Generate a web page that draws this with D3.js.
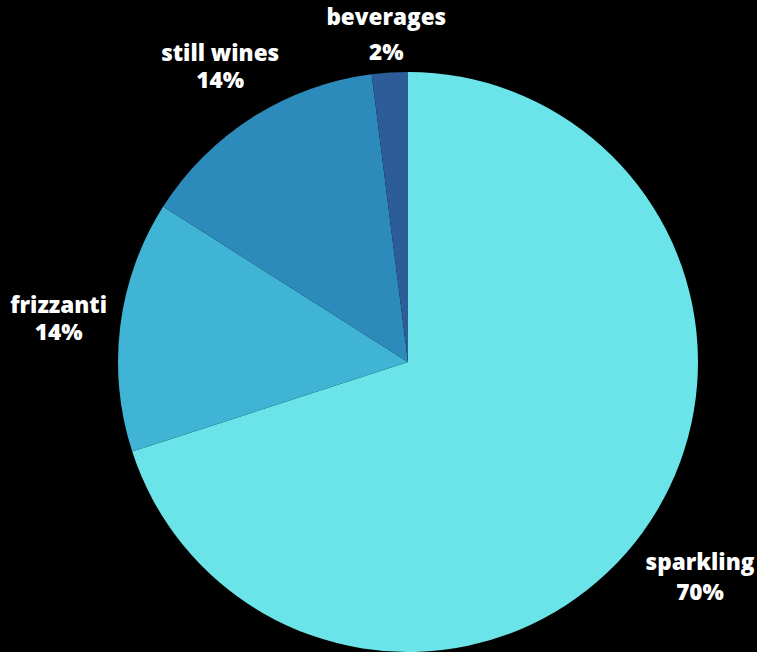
<!DOCTYPE html>
<html>
<head>
<meta charset="utf-8">
<script src="https://cdn.jsdelivr.net/npm/d3@7"></script>
<style>
  html, body { margin: 0; padding: 0; background: #000; }
  svg { display: block; }
  .label { font-family: 'Open Sans', sans-serif; font-weight: 800; font-size: 22.5px; fill: #fff; }
</style>
</head>
<body>
<div class="result"></div>
<script>
// Chart data
const categories = ['sparkling', 'frizzanti', 'still wines', 'beverages'];
const shares = [70, 14, 14, 2];
const colors = ['#6ae4e8', '#40b4d4', '#2d8bbb', '#2d5d98'];

// Width and height
const w = 757;
const h = 652;
const cx = 408;
const cy = 362;
const radius = 290;
const labelRadius = 330;

// Small nudges so the labels sit where the original put them
const labelNudge = {
  'sparkling': { dx: 25, dy: 14, gap: 30 },
  'frizzanti': { dx: -22, dy: -8, gap: 27 },
  'still wines': { dx: -11, dy: -22, gap: 27 },
  'beverages': { dx: -1, dy: -8, gap: 35 }
};

const data = categories.map(function (c, i) {
  return { name: c, value: shares[i], color: colors[i] };
});

const pie = d3.pie()
  .sort(null)
  .value(function (d) { return d.value; });

const arc = d3.arc()
  .innerRadius(0)
  .outerRadius(radius);

const labelArc = d3.arc()
  .innerRadius(labelRadius)
  .outerRadius(labelRadius);

// Create SVG element
const svg = d3.select('.result')
  .append('svg')
  .attr('width', w)
  .attr('height', h);

const g = svg.append('g')
  .attr('transform', 'translate(' + cx + ',' + cy + ')');

const arcs = pie(data);

// Slices
g.selectAll('path')
  .data(arcs)
  .enter()
  .append('path')
  .attr('d', arc)
  .attr('fill', function (d) { return d.data.color; });

// Labels
const labels = g.selectAll('text.label')
  .data(arcs)
  .enter()
  .append('text')
  .attr('class', 'label')
  .attr('text-anchor', 'middle')
  .attr('transform', function (d) {
    const p = labelArc.centroid(d);
    const n = labelNudge[d.data.name];
    return 'translate(' + (p[0] + n.dx) + ',' + (p[1] + n.dy) + ')';
  });

labels.append('tspan')
  .attr('x', 0)
  .attr('y', 0)
  .text(function (d) { return d.data.name; });

labels.append('tspan')
  .attr('x', 0)
  .attr('y', function (d) { return labelNudge[d.data.name].gap; })
  .text(function (d) { return d.data.value + '%'; });
</script>
</body>
</html>
